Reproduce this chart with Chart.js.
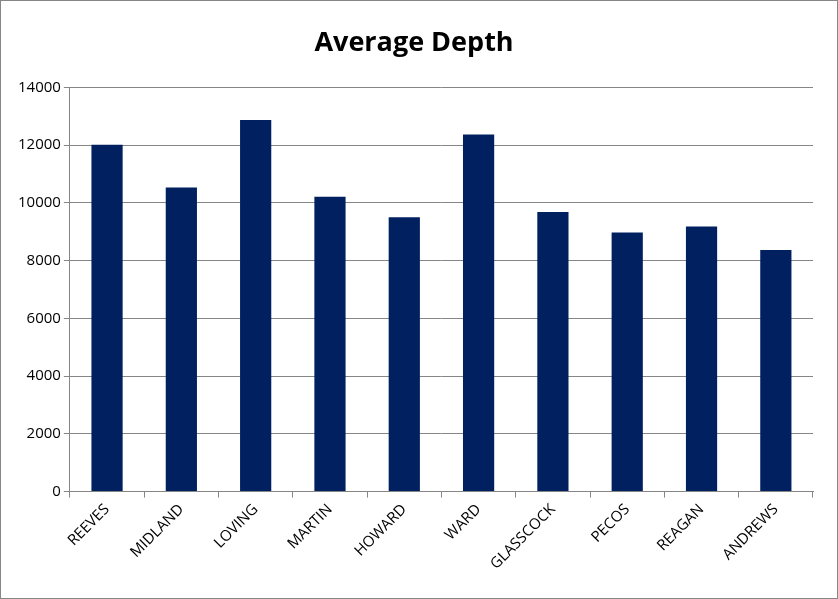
<!DOCTYPE html>
<html><head><meta charset="utf-8">
<script src="https://cdn.jsdelivr.net/npm/chart.js@4"></script>
<style>html,body{margin:0;padding:0;background:#fff}
#w{position:absolute;left:0;top:0;width:836px;height:597px;border:1px solid #868686}
</style></head><body>
<div id="w"><canvas id="c"></canvas></div>
<script>
const categories=["REEVES","MIDLAND","LOVING","MARTIN","HOWARD","WARD","GLASSCOCK","PECOS","REAGAN","ANDREWS"];
const depths=[12010,10530,12870,10210,9500,12370,9680,8970,9180,8370];
new Chart(document.getElementById('c'),{type:'bar',
data:{labels:categories,datasets:[{data:depths,backgroundColor:'#002060',barPercentage:0.42,categoryPercentage:1}]},
options:{responsive:true,maintainAspectRatio:false,animation:false,
layout:{padding:{left:14,right:24,top:10,bottom:22}},
plugins:{legend:{display:false},tooltip:{enabled:false},
title:{display:true,text:'Average Depth',color:'#000',font:{family:'Open Sans',size:27,weight:'bold'},padding:{top:16,bottom:28}}},
scales:{
x:{grid:{display:true,drawOnChartArea:false,color:'#868686',tickLength:6,offset:true},border:{color:'#868686'},
ticks:{color:'#000',font:{family:'Open Sans',size:15},maxRotation:45,minRotation:45}},
y:{min:0,max:14000,ticks:{stepSize:2000,color:'#000',font:{family:'Open Sans',size:15},callback:v=>String(v)},
grid:{color:'#868686',tickLength:6},border:{color:'#868686'}}}}});
</script></body></html>
